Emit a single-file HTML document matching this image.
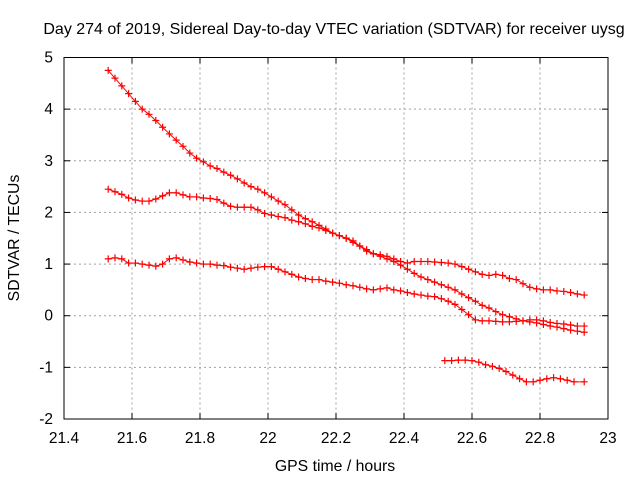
<!DOCTYPE html>
<html><head><meta charset="utf-8"><style>
body{margin:0;background:#fff;}
svg{display:block;font-family:"Liberation Sans",sans-serif;}
</style></head><body>
<svg id="chart" width="640" height="480">
<text x="334" y="34" font-size="16" text-anchor="middle">Day 274 of 2019, Sidereal Day-to-day VTEC variation (SDTVAR) for receiver uysg</text>
<text x="335" y="471" font-size="15.8" text-anchor="middle">GPS time / hours</text>
<text transform="translate(19,238) rotate(-90)" font-size="15.8" text-anchor="middle">SDTVAR / TECUs</text>
<g id="grid"></g><g id="series"></g>
<rect x="64" y="57.5" width="544" height="361.5" fill="none" stroke="#000" stroke-width="1"/>
</svg>
<script>
const xTicks=[21.4,21.6,21.8,22,22.2,22.4,22.6,22.8,23];
const xTickLabels=["21.4","21.6","21.8","22","22.2","22.4","22.6","22.8","23"];
const yTicks=[-2,-1,0,1,2,3,4,5];
const yTickLabels=["-2","-1","0","1","2","3","4","5"];
const seriesAx=[21.53,21.55,21.57,21.59,21.61,21.63,21.65,21.67,21.69,21.71,21.73,21.75,21.77,21.79,21.81,21.83,21.85,21.87,21.89,21.91,21.93,21.95,21.97,21.99,22.01,22.03,22.05,22.07,22.09,22.11,22.13,22.15,22.17,22.19,22.21,22.23,22.25,22.27,22.29,22.31,22.33,22.35,22.37,22.39,22.41,22.43,22.45,22.47,22.49,22.51,22.53,22.55,22.57,22.59,22.61,22.63,22.65,22.67,22.69,22.71,22.73,22.75,22.77,22.79,22.81,22.83,22.85,22.87,22.89,22.91,22.93];
const seriesAy=[4.75,4.6,4.45,4.3,4.15,4.0,3.9,3.78,3.65,3.52,3.4,3.28,3.15,3.05,2.98,2.9,2.85,2.78,2.72,2.65,2.57,2.5,2.45,2.38,2.3,2.22,2.15,2.05,1.95,1.88,1.82,1.75,1.68,1.6,1.55,1.5,1.42,1.35,1.28,1.2,1.15,1.1,1.05,0.98,0.9,0.82,0.75,0.7,0.65,0.6,0.55,0.5,0.42,0.35,0.28,0.2,0.15,0.08,0.02,-0.02,-0.06,-0.1,-0.12,-0.14,-0.17,-0.2,-0.22,-0.25,-0.28,-0.3,-0.32];
const seriesBx=[21.53,21.55,21.57,21.59,21.61,21.63,21.65,21.67,21.69,21.71,21.73,21.75,21.77,21.79,21.81,21.83,21.85,21.87,21.89,21.91,21.93,21.95,21.97,21.99,22.01,22.03,22.05,22.07,22.09,22.11,22.13,22.15,22.17,22.19,22.21,22.23,22.25,22.27,22.29,22.31,22.33,22.35,22.37,22.39,22.41,22.43,22.45,22.47,22.49,22.51,22.53,22.55,22.57,22.59,22.61,22.63,22.65,22.67,22.69,22.71,22.73,22.75,22.77,22.79,22.81,22.83,22.85,22.87,22.89,22.91,22.93];
const seriesBy=[2.45,2.4,2.35,2.28,2.24,2.22,2.22,2.26,2.32,2.38,2.38,2.34,2.3,2.3,2.28,2.27,2.25,2.18,2.12,2.1,2.1,2.1,2.05,1.98,1.95,1.92,1.9,1.85,1.82,1.78,1.73,1.7,1.65,1.6,1.55,1.5,1.45,1.35,1.25,1.2,1.18,1.15,1.1,1.05,1.02,1.05,1.05,1.05,1.04,1.03,1.02,1.0,0.95,0.9,0.85,0.8,0.78,0.8,0.78,0.72,0.7,0.62,0.55,0.52,0.5,0.5,0.48,0.47,0.45,0.42,0.4];
const seriesCx=[21.53,21.55,21.57,21.59,21.61,21.63,21.65,21.67,21.69,21.71,21.73,21.75,21.77,21.79,21.81,21.83,21.85,21.87,21.89,21.91,21.93,21.95,21.97,21.99,22.01,22.03,22.05,22.07,22.09,22.11,22.13,22.15,22.17,22.19,22.21,22.23,22.25,22.27,22.29,22.31,22.33,22.35,22.37,22.39,22.41,22.43,22.45,22.47,22.49,22.51,22.53,22.55,22.57,22.59,22.61,22.63,22.65,22.67,22.69,22.71,22.73,22.75,22.77,22.79,22.81,22.83,22.85,22.87,22.89,22.91,22.93];
const seriesCy=[1.1,1.12,1.1,1.02,1.02,1.0,0.98,0.96,1.0,1.1,1.12,1.08,1.04,1.02,1.0,1.0,0.98,0.97,0.94,0.92,0.9,0.92,0.94,0.95,0.95,0.9,0.85,0.8,0.75,0.72,0.7,0.7,0.67,0.65,0.63,0.6,0.58,0.55,0.52,0.5,0.52,0.54,0.5,0.48,0.45,0.42,0.4,0.38,0.37,0.33,0.28,0.22,0.12,0.02,-0.08,-0.1,-0.1,-0.11,-0.12,-0.12,-0.11,-0.1,-0.08,-0.08,-0.1,-0.13,-0.15,-0.16,-0.18,-0.2,-0.2];
const seriesDx=[22.52,22.54,22.56,22.58,22.60,22.62,22.64,22.66,22.68,22.70,22.72,22.74,22.76,22.78,22.80,22.82,22.84,22.86,22.88,22.90,22.93];
const seriesDy=[-0.87,-0.87,-0.86,-0.86,-0.87,-0.9,-0.95,-0.98,-1.02,-1.08,-1.15,-1.22,-1.28,-1.28,-1.25,-1.22,-1.2,-1.22,-1.25,-1.28,-1.28];
const X0=64,X1=608,Y0=419,Y1=57.5;
function xs(v){return X0+(v-21.4)/(23-21.4)*(X1-X0);}
function ys(v){return Y0-(v+2)/7*(Y0-Y1);}
const NS="http://www.w3.org/2000/svg";
const grid=document.getElementById('grid'),ser=document.getElementById('series');
function mk(t,a,p){const e=document.createElementNS(NS,t);for(const k in a)e.setAttribute(k,a[k]);p.appendChild(e);return e;}
xTicks.forEach((v,i)=>{const x=xs(v);
 if(i>0&&i<xTicks.length-1){const g=mk('line',{x1:x,x2:x,y1:Y1,y2:Y0,stroke:'#a0a0a0','stroke-dasharray':'2,3'},grid);
 
 }
 mk('line',{x1:x,x2:x,y1:Y0,y2:Y0-6,stroke:'#000'},grid);mk('line',{x1:x,x2:x,y1:Y1,y2:Y1+6,stroke:'#000'},grid);
 const t=mk('text',{x:x,y:Y0+24,'font-size':15.5,'text-anchor':'middle'},grid);t.textContent=xTickLabels[i];
 
 });
yTicks.forEach((v,i)=>{const y=ys(v);
 if(i>0&&i<yTicks.length-1){const g=mk('line',{x1:X0,x2:X1,y1:y,y2:y,stroke:'#a0a0a0','stroke-dasharray':'2,3'},grid);
 
 }
 mk('line',{x1:X0,x2:X0+6,y1:y,y2:y,stroke:'#000'},grid);mk('line',{x1:X1,x2:X1-6,y1:y,y2:y,stroke:'#000'},grid);
 const t=mk('text',{x:X0-11,y:y+5,'font-size':15.5,'text-anchor':'end'},grid);t.textContent=yTickLabels[i];
 
 });
function draw(xa,ya,name){
 const pts=xa.map((x,i)=>xs(x)+','+ys(ya[i])).join(' ');
 const pl=mk('polyline',{points:pts,fill:'none',stroke:'#f00','stroke-width':1},ser);
 
 
 xa.forEach((x,i)=>{const px=xs(x),py=ys(ya[i]);
  const p=mk('path',{d:`M${px-3.5},${py}H${px+3.5}M${px},${py-3.5}V${py+3.5}`,stroke:'#f00','stroke-width':1.2},ser);
  
  });
}
draw(seriesAx,seriesAy,'series-a');draw(seriesBx,seriesBy,'series-b');draw(seriesCx,seriesCy,'series-c');draw(seriesDx,seriesDy,'series-d');
</script>
</body></html>
